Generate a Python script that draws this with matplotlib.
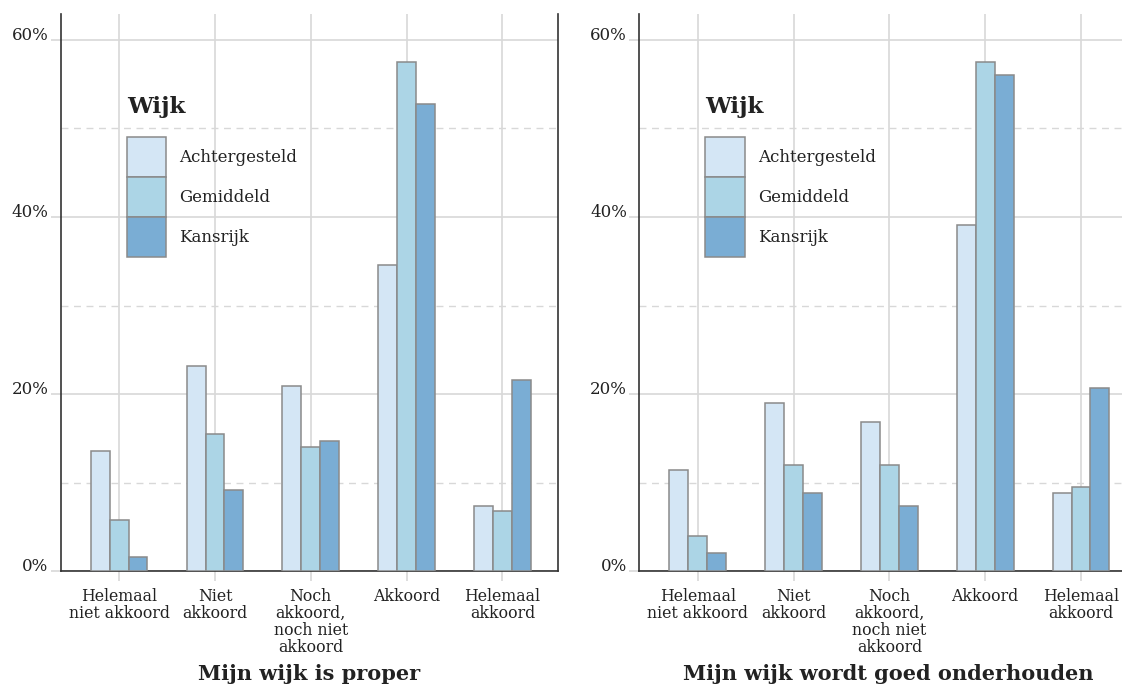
import numpy as np
from matplotlib import pyplot as plt

# answer categories (x axis)
categories = ["Helemaal\nniet akkoord", "Niet\nakkoord", "Noch\nakkoord,\nnoch niet\nakkoord",
              "Akkoord", "Helemaal\nakkoord"]

# neighbourhood types (legend)
groups = ["Achtergesteld", "Gemiddeld", "Kansrijk"]
colors = ["#d4e6f5", "#acd5e6", "#7aadd4"]

# percentages
proper_achtergesteld = [13.6, 23.2, 20.9, 34.6, 7.4]
proper_gemiddeld = [5.8, 15.5, 14.1, 57.5, 6.8]
proper_kansrijk = [1.6, 9.2, 14.7, 52.7, 21.6]

onderhoud_achtergesteld = [11.4, 19.0, 16.9, 39.1, 8.8]
onderhoud_gemiddeld = [4.0, 12.0, 12.0, 57.5, 9.5]
onderhoud_kansrijk = [2.1, 8.8, 7.4, 56.0, 20.7]

titles = ["Mijn wijk is proper", "Mijn wijk wordt goed onderhouden"]
yticks = [0, 20, 40, 60]
yticklabels = ["0%", "20%", "40%", "60%"]

plt.rcParams['font.family'] = ['DejaVu Serif']
text_color = "#222222"
grid_color = "#d8d8d8"

fig = plt.figure(figsize=(11.22, 6.84), dpi=100)
ax_left = fig.add_axes([0.0541, 0.1645, 0.4432, 0.815])
ax_right = fig.add_axes([0.5698, 0.1645, 0.4432, 0.815])

panels = [
    (ax_left, [proper_achtergesteld, proper_gemiddeld, proper_kansrijk]),
    (ax_right, [onderhoud_achtergesteld, onderhoud_gemiddeld, onderhoud_kansrijk]),
]

x = np.arange(len(categories))
width = 0.197

for i, (ax, series) in enumerate(panels):
    for j, values in enumerate(series):
        ax.bar(x + (j - 1) * width, values, width, color=colors[j], edgecolor="#8a8a8a",
               linewidth=1.1, label=groups[j], zorder=3)

    ax.set_xlim(-0.61, 4.58)
    ax.set_ylim(0, 62.9)

    # solid major grid, dashed minor grid
    ax.set_yticks(yticks)
    ax.set_yticklabels(yticklabels)
    ax.set_yticks([10, 30, 50], minor=True)
    ax.set_xticks(x)
    ax.set_xticklabels(categories, linespacing=1.0)
    ax.grid(True, which="major", color=grid_color, linewidth=1.2, zorder=0)
    ax.grid(True, which="minor", axis="y", color=grid_color, linewidth=1.0,
            linestyle=(0, (5, 4)), zorder=0)
    ax.set_axisbelow(True)

    ax.tick_params(axis="both", which="major", color=grid_color, length=7, width=1.2,
                   labelcolor=text_color)
    ax.tick_params(axis="y", which="major", labelsize=12, pad=2)
    ax.tick_params(axis="x", which="major", labelsize=11.3, pad=5)
    ax.tick_params(which="minor", length=0)
    for lab in ax.get_yticklabels():
        lab.set_verticalalignment("baseline")

    for side in ["left", "bottom", "right"]:
        ax.spines[side].set_color("#333333")
        ax.spines[side].set_linewidth(1.2)
    ax.spines["top"].set_visible(False)

    ax.set_xlabel(titles[i], fontsize=15, fontweight="bold", color=text_color, labelpad=6)

    # legend title as plain text, it sits well above the colour boxes
    ax.text(0.133, 0.822, "Wijk", transform=ax.transAxes, fontsize=16.5, fontweight="bold",
            color=text_color, ha="left", va="baseline")
    ax.legend(loc="upper left", bbox_to_anchor=(0.133, 0.779),
              frameon=False, labelspacing=0, handlelength=2.35, handleheight=3.3,
              handletextpad=0.8, borderpad=0, borderaxespad=0, fontsize=12,
              labelcolor=text_color)

fig.savefig("out.png", dpi=100)
